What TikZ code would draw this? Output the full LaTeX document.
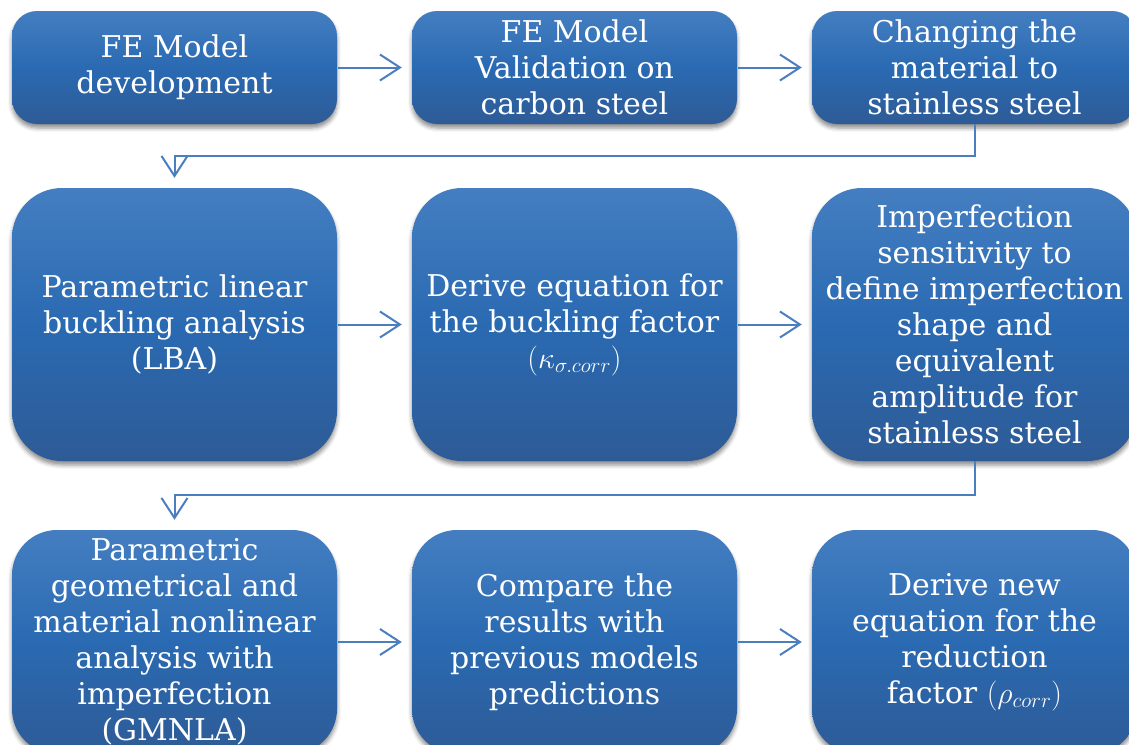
\RequirePackage{fix-cm}
\documentclass[tikz,border=0pt]{standalone}
\usepackage{fontspec}
\setmainfont{DejaVu Serif}
\usetikzlibrary{arrows.meta,shadows.blur,calc}
\definecolor{boxtop}{RGB}{68,126,193}
\definecolor{boxmid}{RGB}{42,106,178}
\definecolor{boxbot}{RGB}{46,91,150}
\definecolor{conncol}{RGB}{74,126,190}
\newcommand{\bigmath}[1]{{\fontsize{30}{36}\selectfont$#1$}}
\tikzset{
  stepbox/.style={rectangle, rounded corners=#1, minimum width=325pt, inner sep=0pt,
    top color=boxtop, bottom color=boxbot, middle color=boxmid,
    text=white, align=center, font=\fontsize{30}{36}\selectfont,
    blur shadow={shadow xshift=0pt, shadow yshift=-4pt, shadow blur radius=4pt, shadow opacity=45}},
  conn/.style={draw=conncol, line width=2pt,
    -{Straight Barb[length=20pt,width=26pt,line width=2pt]}, shorten >=10pt}
}
\begin{document}
\begin{tikzpicture}[x=1pt,y=-1pt]
\useasboundingbox (0,0) rectangle (1129,744);
\clip (0,0) rectangle (1129,744);
% row 1
\node[stepbox=25pt, minimum height=113pt] (b1) at (174.5,67.5) {FE Model\\development};
\node[stepbox=25pt, minimum height=113pt] (b2) at (574.5,67.5) {FE Model\\Validation on\\carbon steel};
\node[stepbox=25pt, minimum height=113pt] (b3) at (974.5,67.5) {Changing the\\material to\\stainless steel};
% row 2
\node[stepbox=50pt, minimum height=273pt] (b4) at (174.5,324.5) {Parametric linear\\buckling analysis\\(LBA)};
\node[stepbox=50pt, minimum height=273pt] (b5) at (574.5,324.5) {Derive equation for\\the buckling factor\\\bigmath{(\kappa_{\sigma.corr})}};
\node[stepbox=50pt, minimum height=273pt] (b6) at (974.5,324.5) {Imperfection\\sensitivity to\\define imperfection\\shape and\\equivalent\\amplitude for\\stainless steel};
% row 3
\node[stepbox=45pt, minimum height=224pt] (b7) at (174.5,642) {Parametric\\geometrical and\\material nonlinear\\analysis with\\imperfection\\(GMNLA)};
\node[stepbox=45pt, minimum height=224pt] (b8) at (574.5,642) {Compare the\\results with\\previous models\\predictions};
\node[stepbox=45pt, minimum height=224pt] (b9) at (974.5,642) {Derive new\\equation for the\\reduction\\factor \bigmath{(\rho_{corr})}};
% connectors
\draw[conn, shorten <=1pt] (b1.east) -- (b2.west);
\draw[conn, shorten <=1pt] (b2.east) -- (b3.west);
\draw[conn, shorten <=1pt] (b4.east) -- (b5.west);
\draw[conn, shorten <=1pt] (b5.east) -- (b6.west);
\draw[conn, shorten <=1pt] (b7.east) -- (b8.west);
\draw[conn, shorten <=1pt] (b8.east) -- (b9.west);
\draw[conn] (b3.south) -- ++(0,32) -| (b4.north);
\draw[conn] (b6.south) -- ++(0,34) -| (b7.north);
\end{tikzpicture}
\end{document}
